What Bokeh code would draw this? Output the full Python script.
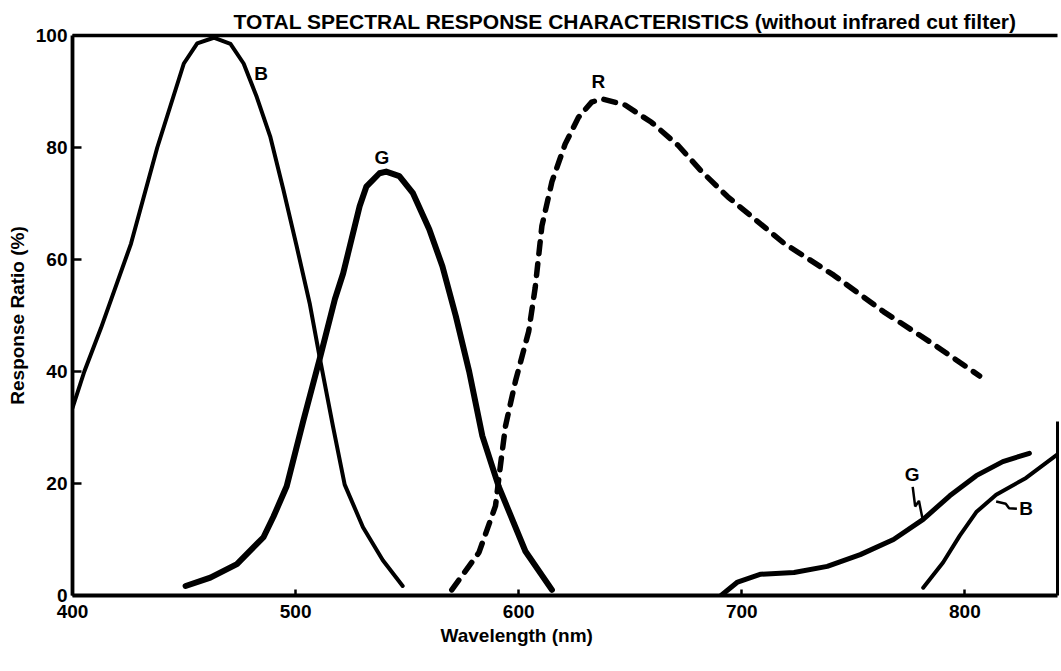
from bokeh.plotting import figure
from bokeh.models import Range1d, LinearAxis, FixedTicker, Title
from bokeh.embed import file_html
from bokeh.resources import INLINE
from bokeh.core.properties import value

# ---------------- data ----------------
# Blue, visible band (thin solid)
B_VIS_NM = [400, 405.3, 412.8, 426.2, 438.0, 449.9, 455.9, 463.3, 470.8, 476.7, 482.6,
            488.6, 494.5, 500.4, 506.4, 510.9, 516.8, 522.0, 530.2, 539.1, 548.0]
B_VIS_PCT = [33.5, 40.0, 47.8, 62.8, 80.0, 95.0, 98.6, 99.6, 98.5, 95.0, 89.0,
             82.0, 72.5, 62.5, 52.0, 42.3, 30.1, 19.8, 12.2, 6.3, 1.7]

# Green, visible band (thick solid)
G_VIS_NM = [450.7, 461.8, 473.7, 485.6, 490.1, 496.0, 503.4, 510.9, 517.6, 521.3, 528.7,
            531.7, 537.6, 540.6, 546.5, 552.5, 559.9, 565.8, 571.8, 577.8, 583.7, 591.1,
            603.0, 614.9]
G_VIS_PCT = [1.7, 3.2, 5.6, 10.4, 14.1, 19.5, 31.1, 42.4, 52.9, 57.5, 69.5,
             73.0, 75.4, 75.7, 74.9, 71.9, 65.4, 58.8, 49.9, 40.0, 28.5, 19.4,
             7.9, 1.0]

# Red (dashed)
R_NM = [570.0, 582.2, 589.6, 591.8, 594.1, 598.5, 604.5, 607.4, 610.4, 614.9, 620.8,
        626.8, 632.7, 637.2, 647.6, 659.5, 671.4, 681.8, 693.7, 718.9, 741.2, 763.5,
        785.8, 806.6]
R_PCT = [1.0, 7.7, 16.0, 23.2, 30.3, 38.2, 47.2, 55.0, 66.0, 73.9, 80.6,
         85.4, 88.1, 88.7, 87.6, 84.5, 80.4, 75.8, 71.2, 62.9, 57.2, 50.7,
         44.9, 39.2]

# Green, near-infrared band
G_NIR_NM = [690.7, 698.1, 708.5, 723.4, 738.3, 753.1, 768.0, 781.3, 793.2, 805.1, 817.0, 828.9]
G_NIR_PCT = [0.0, 2.4, 3.8, 4.1, 5.2, 7.3, 10.0, 13.6, 17.8, 21.4, 23.9, 25.4]

# Blue, near-infrared band
B_NIR_NM = [781.3, 790.2, 797.7, 805.1, 814.0, 827.4, 841.5]
B_NIR_PCT = [1.4, 5.9, 10.7, 14.9, 18.0, 21.0, 25.2]

# curve labels
CURVE_LABELS = ["B", "G", "R", "G"]
LABEL_NM = [484.5, 538.7, 635.7, 776.3]
LABEL_PCT = [93.3, 78.3, 91.8, 21.6]
B_NIR_LABEL = "B"
B_NIR_LABEL_NM = 824.3
B_NIR_LABEL_PCT = 15.5

# leader lines of the near-infrared labels
G_LEADER_NM = [776.6, 777.7, 779.4, 781.0]
G_LEADER_PCT = [19.4, 15.9, 16.9, 13.7]
B_LEADER_NM = [814.0, 818.3, 819.8, 823.3]
B_LEADER_PCT = [16.8, 16.4, 15.6, 15.5]

X_TICKS = [400, 500, 600, 700, 800]
Y_TICKS = [0, 20, 40, 60, 80, 100]
X_RANGE = (400, 841.5)
Y_RANGE = (0, 100)

TITLE = "TOTAL SPECTRAL RESPONSE CHARACTERISTICS (without infrared cut filter)"
X_LABEL = "Wavelength (nm)"
Y_LABEL = "Response Ratio (%)"

# ---------------- style ----------------
FONT = "Liberation Sans"
INK = "black"

p = figure(width=1060, height=671,
           x_range=Range1d(*X_RANGE), y_range=Range1d(*Y_RANGE),
           output_backend="svg", toolbar_location=None,
           min_border_left=72, min_border_right=3,
           min_border_top=35, min_border_bottom=76)
p.grid.visible = False
p.outline_line_color = None
p.background_fill_color = "white"
p.border_fill_color = "white"

# axes
for ax in (p.xaxis[0], p.yaxis[0]):
    ax.axis_line_width = 3.8
    ax.axis_line_color = INK
    ax.major_tick_out = 0
    ax.major_tick_line_width = 2.5
    ax.major_tick_line_color = INK
    ax.minor_tick_line_color = None
    ax.major_label_text_font = FONT
    ax.major_label_text_font_style = "bold"
    ax.major_label_text_font_size = "19px"
    ax.major_label_text_color = INK

p.xaxis.ticker = X_TICKS
p.xaxis.major_tick_in = 6
p.xaxis.major_label_standoff = 9

p.yaxis.ticker = Y_TICKS
p.yaxis.major_tick_in = 9
p.yaxis.major_label_standoff = 5
p.yaxis.axis_label = Y_LABEL
p.yaxis.axis_label_text_font = FONT
p.yaxis.axis_label_text_font_style = "bold"
p.yaxis.axis_label_text_font_size = "19px"
p.yaxis.axis_label_text_color = INK
p.yaxis.axis_label_standoff = 5

# empty, invisible bottom axis used only as vertical spacing before the x label
spacer_axis = LinearAxis(ticker=FixedTicker(ticks=[]), axis_line_color=None,
                         major_tick_out=21, major_tick_in=0,
                         major_tick_line_color=None, major_label_standoff=0,
                         minor_tick_line_color=None)
p.add_layout(spacer_axis, "below")

# x-axis label as a left-aligned title with a pixel offset
p.add_layout(Title(text=X_LABEL, align="left", offset=368, standoff=4,
                   text_font=FONT, text_font_style="bold", text_font_size="19px",
                   text_color=INK), "below")

# top frame line and partial right frame line
top_axis = LinearAxis(ticker=FixedTicker(ticks=[]), axis_line_width=3.5,
                      major_tick_out=0, major_tick_in=0, major_label_standoff=0,
                      minor_tick_line_color=None)
p.add_layout(top_axis, "above")
right_axis = LinearAxis(ticker=FixedTicker(ticks=[]), axis_line_width=3.0,
                        bounds=(0, 31), major_tick_out=0, major_tick_in=0,
                        major_label_standoff=0, minor_tick_line_color=None)
p.add_layout(right_axis, "right")

# title (above), left-aligned with a pixel offset
p.add_layout(Title(text=TITLE, align="left", offset=161, standoff=6,
                   text_font=FONT, text_font_style="bold", text_font_size="21px",
                   text_color=INK), "above")

# curves
p.line(B_VIS_NM, B_VIS_PCT, line_width=4, line_color=INK,
       line_cap="round", line_join="round")
p.line(G_VIS_NM, G_VIS_PCT, line_width=6, line_color=INK,
       line_cap="round", line_join="round")
p.line(R_NM, R_PCT, line_width=5.5, line_color=INK, line_dash="12 10",
       line_cap="round", line_join="round")
p.line(G_NIR_NM, G_NIR_PCT, line_width=5, line_color=INK,
       line_cap="round", line_join="round")
p.line(B_NIR_NM, B_NIR_PCT, line_width=4, line_color=INK,
       line_cap="round", line_join="round")

# leaders
p.line(G_LEADER_NM, G_LEADER_PCT, line_width=2.5, line_color=INK)
p.line(B_LEADER_NM, B_LEADER_PCT, line_width=2.5, line_color=INK)

# curve labels
p.text(x=LABEL_NM, y=LABEL_PCT, text=CURVE_LABELS,
       text_font=value(FONT), text_font_style="bold", text_font_size="19px",
       text_align="center", text_baseline="middle", text_color=INK)
p.text(x=[B_NIR_LABEL_NM], y=[B_NIR_LABEL_PCT], text=[B_NIR_LABEL],
       text_font=value(FONT), text_font_style="bold", text_font_size="19px",
       text_align="left", text_baseline="middle", text_color=INK)

open("out.html", "w").write(file_html(p, INLINE))
